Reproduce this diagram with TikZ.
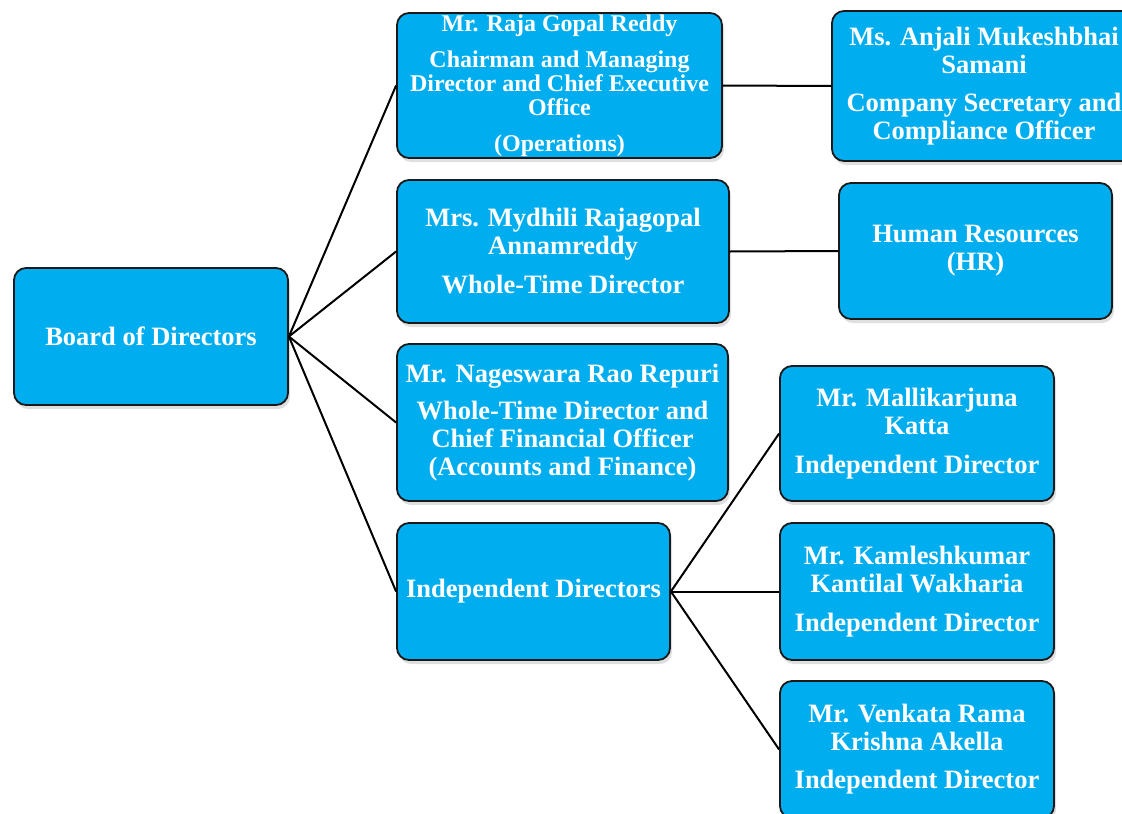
\documentclass[tikz,border=0pt]{standalone}
\usepackage{fontspec}
\setmainfont{Liberation Serif}
\usepackage{tikz}
\usetikzlibrary{shadows}
\definecolor{boxblue}{HTML}{00AEEF}
\tikzset{
  orgbox/.style={draw=black!90, line width=1.8pt, fill=boxblue, rounded corners=12pt,
    text=white, font=\bfseries\fontsize{26.5}{28}\selectfont, align=center, inner sep=0pt,
    drop shadow={opacity=0.25, shadow xshift=2pt, shadow yshift=-4pt}},
  link/.style={line width=2pt}
}
\begin{document}
\begin{tikzpicture}[x=1pt, y=-1pt]
      \useasboundingbox (0,0) rectangle (1122,814);
      \clip (0,0) rectangle (1122,814);
      \node[orgbox, minimum width=274pt, minimum height=137pt] (1) at (151, 336.5){Board of Directors};
      \node[orgbox, minimum width=325pt, minimum height=145pt, font=\bfseries\fontsize{24}{24}\selectfont] (2) at (559.5, 85.5){Mr. Raja Gopal Reddy\\[12pt]Chairman and Managing\\Director and Chief Executive\\Office\\[12pt](Operations)};
      \node[orgbox, minimum width=332pt, minimum height=143pt] (3) at (563, 251.5){Mrs. Mydhili Rajagopal\\Annamreddy\\[11pt]Whole-Time Director};
      \node[orgbox, minimum width=331pt, minimum height=157pt] (4) at (562.5, 422.5){Mr. Nageswara Rao Repuri\\[9pt]Whole-Time Director and\\Chief Financial Officer\\(Accounts and Finance)};
      \node[orgbox, minimum width=273pt, minimum height=137pt] (5) at (533.5, 591.5){Independent Directors};
      \node[orgbox, minimum width=304pt, minimum height=150pt] (6) at (984, 86){Ms. Anjali Mukeshbhai\\Samani\\[10pt]Company Secretary and\\Compliance Officer};
      \node[orgbox, minimum width=273pt, minimum height=136pt] (7) at (975.5, 251){Human Resources\\(HR)};
      \node[orgbox, minimum width=274pt, minimum height=135pt] (8) at (917, 433.5){Mr. Mallikarjuna\\Katta\\[11pt]Independent Director};
      \node[orgbox, minimum width=274pt, minimum height=137pt] (9) at (917, 591.5){Mr. Kamleshkumar\\Kantilal Wakharia\\[11pt]Independent Director};
      \node[orgbox, minimum width=274pt, minimum height=137pt] (10) at (917, 749.5){Mr. Venkata Rama\\Krishna Akella\\[10pt]Independent Director};

      \draw[link] (1.east) -- (2.west);
      \draw[link] (1.east) -- (3.west);
      \draw[link] (1.east) -- (4.west);
      \draw[link] (1.east) -- (5.west);
      \draw[link] (2.east) -- (6.west);
      \draw[link] (3.east) -- (7.west);
      \draw[link] (5.east) -- (8.west);
      \draw[link] (5.east) -- (9.west);
      \draw[link] (5.east) -- (10.west);
    \end{tikzpicture}
\end{document}
